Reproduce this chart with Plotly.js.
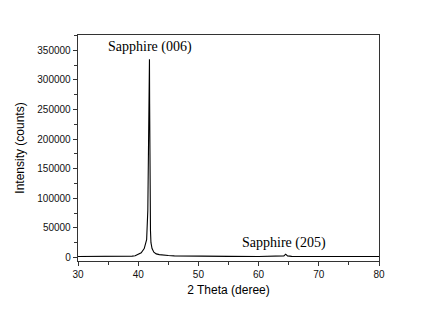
<!DOCTYPE html>
<html>
<head>
<meta charset="utf-8">
<script src="https://cdn.plot.ly/plotly-3.0.1.min.js"></script>
<style>html,body{margin:0;padding:0;background:#fff;}#chart{width:442px;height:313px;}</style>
</head>
<body>
<div id="chart"></div>
<script>
const twoTheta = [30,31,32,33,34,35,36,37,37.5,38,39,39.5,40,40.5,41,41.4,41.6,41.72,41.77,41.8,41.84,41.87,41.9,41.94,41.99,42.04,42.12,42.3,42.6,43,43.5,44,45,46,48,50,55,60,62,63.5,64.2,64.5,64.8,65.5,67,70,75,80];
const intensity = [1500,1500,1500,1500,1500,1600,1700,2000,2600,2000,2200,3000,5000,8000,15000,30000,80000,190000,262000,250000,300000,335000,260000,150000,80000,45000,25000,15000,9000,6000,4800,4000,3200,2600,2200,2000,1800,1700,1700,1900,2600,5500,2600,1900,1700,1600,1500,1500];
const annTexts = ["Sapphire (006)", "Sapphire (205)"];
const annX = [41.9, 64.2];
const annY = [356000, 24000];

const trace = {
  x: twoTheta, y: intensity, type: 'scatter', mode: 'lines',
  line: {color: '#000', width: 1.1}, hoverinfo: 'skip'
};
const axCommon = {
  showgrid: false, zeroline: false, showline: true, linecolor: '#333', linewidth: 1.3,
  mirror: true, ticks: 'outside', ticklen: 4, tickwidth: 1, tickcolor: '#333',
  tickfont: {family: 'Liberation Sans, Arial, sans-serif', size: 10, color: '#111'}
};
const layout = {
  width: 442, height: 313,
  margin: {l: 78, r: 63, t: 35, b: 52},
  paper_bgcolor: '#fff', plot_bgcolor: '#fff',
  showlegend: false,
  xaxis: Object.assign({}, axCommon, {
    range: [30, 80], tickvals: [30,40,50,60,70,80], ticktext: ['30','40','50','60','70','80'],
    minor: {dtick: 5, tick0: 30, ticks: 'outside', ticklen: 2.5, tickcolor: '#333'},
    title: {text: '2 Theta (deree)', font: {family: 'Liberation Sans, Arial, sans-serif', size: 12, color: '#000'}, standoff: 6}
  }),
  yaxis: Object.assign({}, axCommon, {
    range: [-6000, 376000], tickvals: [0,50000,100000,150000,200000,250000,300000,350000],
    ticktext: ['0','50000','100000','150000','200000','250000','300000','350000'],
    minor: {dtick: 25000, tick0: 0, ticks: 'outside', ticklen: 2.5, tickcolor: '#333'},
    title: {text: 'Intensity (counts)', font: {family: 'Liberation Sans, Arial, sans-serif', size: 12, color: '#000'}, standoff: 10}
  }),
  annotations: annTexts.map((t, i) => ({
    x: annX[i], y: annY[i], xref: 'x', yref: 'y', text: t, showarrow: false,
    font: {family: 'Liberation Serif, Times New Roman, serif', size: 14, color: '#000'}
  }))
};
Plotly.newPlot('chart', [trace], layout, {displayModeBar: false, staticPlot: true});
</script>
</body>
</html>
